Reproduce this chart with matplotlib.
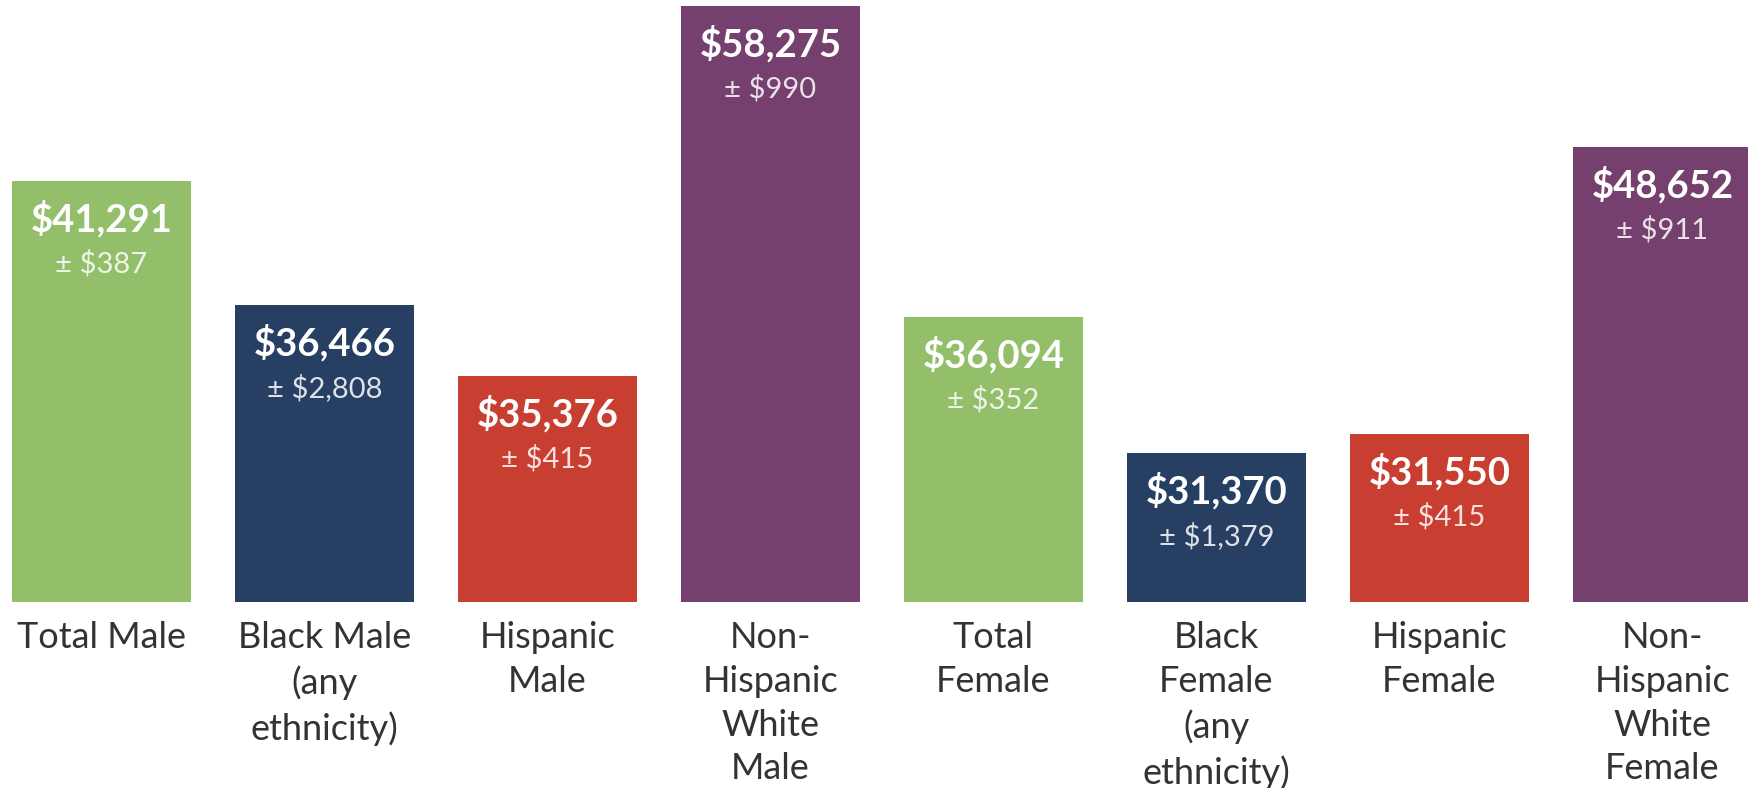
import matplotlib.pyplot as plt

# median earnings by group (labels)
groups = ["Total Male", "Black Male\n(any\nethnicity)", "Hispanic\nMale",
          "Non-\nHispanic\nWhite\nMale", "Total\nFemale",
          "Black\nFemale\n(any\nethnicity)", "Hispanic\nFemale",
          "Non-\nHispanic\nWhite\nFemale"]
earnings = [41291, 36466, 35376, 58275, 36094, 31370, 31550, 48652]
margins = [387, 2808, 415, 990, 352, 1379, 415, 911]
# the original graphic is not drawn to scale: bar heights as read off it ($)
bar_heights = [41165, 29040, 22100, 58275, 27870, 14570, 16430, 44490]
colors = ["#93bf6a", "#263f62", "#c83e30", "#75406e",
          "#93bf6a", "#263f62", "#c83e30", "#75406e"]

plt.rcParams['font.family'] = ['Lato', 'DejaVu Sans']

fig = plt.figure(figsize=(17.49, 7.88), dpi=100)
# bars sit on y=602 px from the top
ax = fig.add_axes([0, (788 - 602) / 788, 1, 602 / 788])

x = range(len(groups))
ax.bar(x, bar_heights, width=0.803, color=colors)

ax.set_xlim(-101.5 / 223, (1749 - 101.5) / 223)
ax.set_ylim(0, 602 * 58275 / 596)
ax.axis('off')

pt = 72 / 100  # px -> points

for i, (h, v, m) in enumerate(zip(bar_heights, earnings, margins)):
    ax.annotate(f"${v:,}", xy=(i, h), xytext=(0, -38 * pt),
                textcoords='offset points', ha='center', va='center',
                color='white', fontsize=27.5, fontweight='bold')
    ax.annotate(f"\u00b1 ${m:,}", xy=(i, h), xytext=(0, -83 * pt),
                textcoords='offset points', ha='center', va='center',
                color='white', alpha=0.85, fontsize=21)
    ax.annotate(groups[i], xy=(i, 0), xytext=(0, -19 * pt),
                textcoords='offset points', ha='center', va='top',
                color='#333333', fontsize=26, linespacing=1.4,
                annotation_clip=False)

fig.savefig("out.png", dpi=100)
